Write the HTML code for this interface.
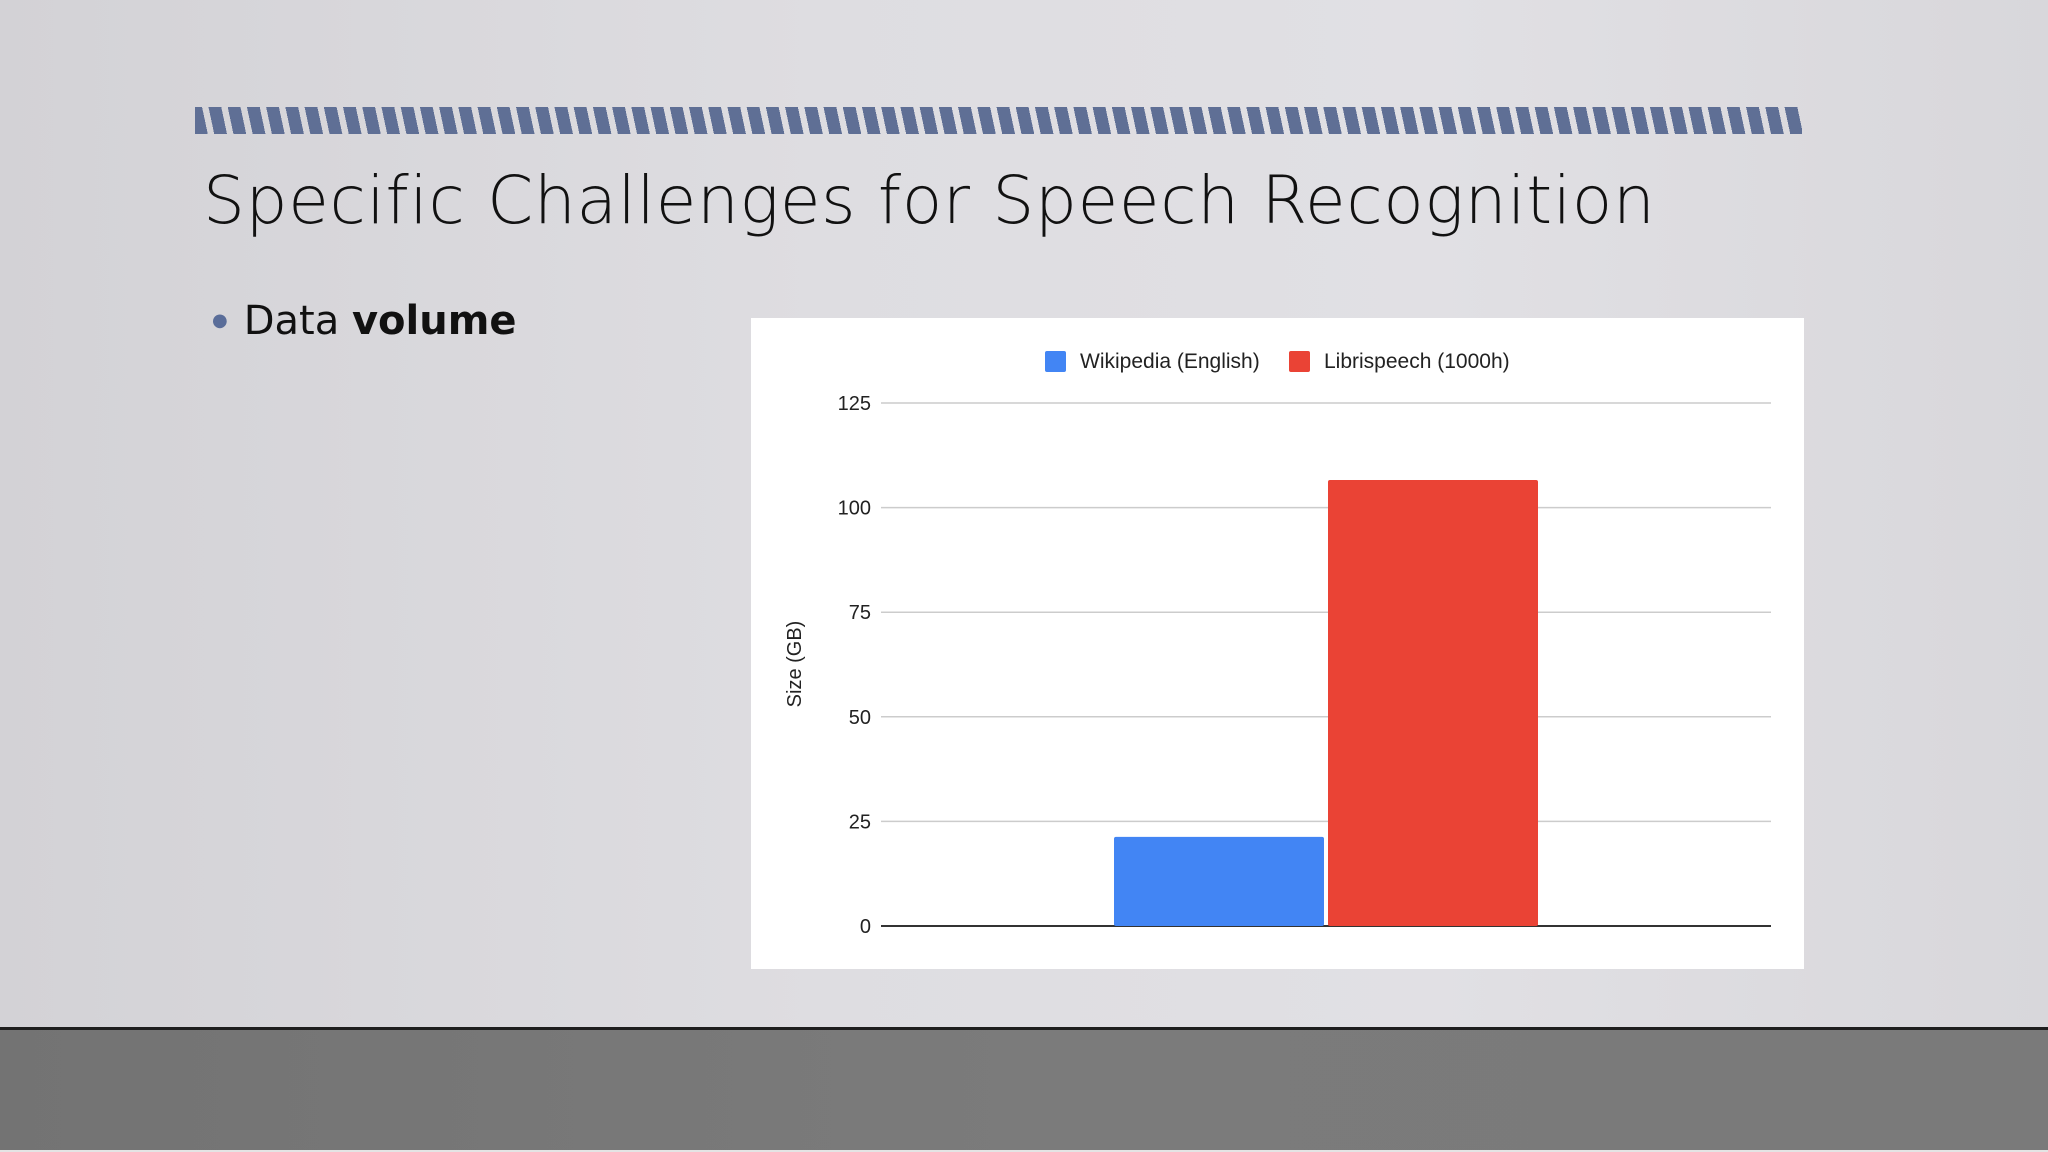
<!DOCTYPE html>
<html><head><meta charset="utf-8"><style>
html,body{margin:0;padding:0}
body{width:2048px;height:1152px;position:relative;overflow:hidden;font-family:"Liberation Sans",sans-serif;
background:linear-gradient(90deg,#d3d2d6 0%,#dedde1 40%,#e1e0e4 70%,#d8d7db 100%)}
#stripes{position:absolute;left:195px;top:107px;width:1607px;height:27px;
background:repeating-linear-gradient(78deg,#5f6f95 0 12.5px,transparent 12.5px 18.8px)}
#title{position:absolute;left:203px;top:162px;font-family:"DejaVu Sans","Liberation Sans",sans-serif;font-weight:200;font-size:66px;color:#111;letter-spacing:0.7px;white-space:nowrap}
#bullet{position:absolute;left:212px;top:298px;font-family:"DejaVu Sans","Liberation Sans",sans-serif;font-size:40px;color:#111;white-space:nowrap}
#bullet .dot{color:#5a6d99;font-size:18px;vertical-align:8px;margin-right:16px}
#floor{position:absolute;left:0;top:1027px;width:2048px;height:123px;background:linear-gradient(90deg,#737373,#7b7b7b 50%,#7a7a7a);border-top:3px solid #1e1e1e;box-sizing:border-box}
#floorline{position:absolute;left:0;top:1150px;width:2048px;height:2px;background:#e4e4e4}
#chart{position:absolute;left:0;top:0}
</style></head><body>
<div id="stripes"></div>
<div id="title">Specific Challenges for Speech Recognition</div>
<div id="bullet"><span class="dot">●</span>Data <b>volume</b></div>
<div id="floor"></div>
<div id="floorline"></div>
<svg id="chart" width="2048" height="1152"></svg>
<script>
const categories=["Wikipedia (English)","Librispeech (1000h)"];
const values=[21.3,106.6];
const colors=["#4285f4","#ea4335"];
const yTicks=[0,25,50,75,100,125];
const NS="http://www.w3.org/2000/svg";
const svg=document.getElementById('chart');
function mk(t,a,txt){const e=document.createElementNS(NS,t);for(const k in a)e.setAttribute(k,a[k]);if(txt!=null)e.textContent=txt;svg.appendChild(e);return e;}
const card=mk('rect',{x:751,y:318,width:1053,height:651,fill:'#fff'});


const px0=881,px1=1771,py0=926,py1=403,yMax=125;
const y=v=>py0-(v/yMax)*(py0-py1);
yTicks.forEach(t=>{
  const l=mk('line',{x1:px0,x2:px1,y1:y(t),y2:y(t),stroke:t===0?'#333':'#ccc','stroke-width':t===0?2:1.5});
  
  
  const tx=mk('text',{x:871,y:y(t)+7,'text-anchor':'end','font-size':20,fill:'#222'},t);
  
  
});
const groupL=1114,barW=210,gap=4;
values.forEach((v,i)=>{
  const x=groupL+i*(barW+gap);
  const r=mk('rect',{x:x,y:y(v),width:barW,height:py0-y(v),fill:colors[i],rx:2});
  
  
});
const yt=mk('text',{x:0,y:0,transform:'translate(801,664) rotate(-90)','text-anchor':'middle','font-size':20,fill:'#222'},'Size (GB)');


const legX=[1045,1289];
categories.forEach((c,i)=>{
  const s=mk('rect',{x:legX[i],y:351,width:21,height:21,fill:colors[i],rx:2});
  
  
  const t=mk('text',{x:legX[i]+35,y:368,'font-size':21,fill:'#222'},c);
  
  
});
</script>
</body></html>
